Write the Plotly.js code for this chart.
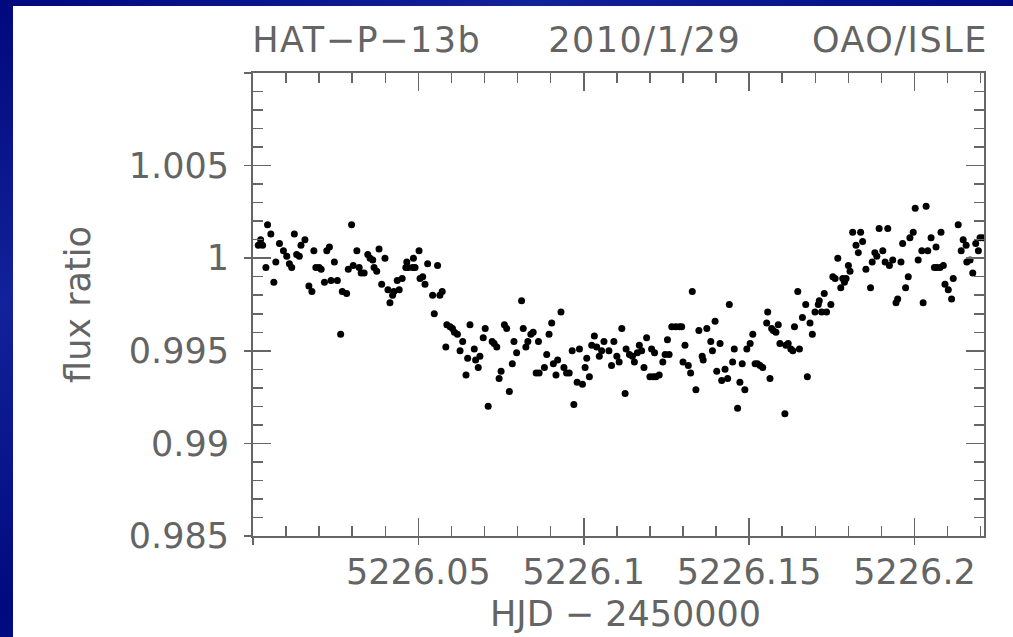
<!DOCTYPE html>
<html>
<head>
<meta charset="utf-8">
<script src="https://cdn.plot.ly/plotly-3.0.1.min.js"></script>
<style>
  html, body { margin: 0; padding: 0; width: 1013px; height: 637px; overflow: hidden;
    background: linear-gradient(150deg, #00087e 0%, #12229a 25%, #000a80 50%, #0d1a92 75%, #00067a 100%); }
  #plot { position: absolute; left: 13px; top: 6px; width: 1000px; height: 631px; background: #ffffff; }
  #plot .annotation-text.spaced { letter-spacing: 1.5px; }
</style>
</head>
<body>
<div id="plot"></div>
<script>
// Light curve of HAT-P-13b, 2010/1/29, OAO/ISLE
const hjd = [
5226.0016,5226.0023,5226.0029,5226.0039,5226.0044,5226.0054,5226.0063,5226.0069,5226.0080,5226.0092,
5226.0102,5226.0110,5226.0117,5226.0125,5226.0132,5226.0140,5226.0145,5226.0157,5226.0169,5226.0178,
5226.0184,5226.0190,5226.0200,5226.0206,5226.0216,5226.0223,5226.0231,5226.0236,5226.0246,5226.0255,
5226.0265,5226.0270,5226.0283,5226.0288,5226.0298,5226.0303,5226.0314,5226.0321,5226.0327,5226.0336,
5226.0347,5226.0354,5226.0362,5226.0366,5226.0374,5226.0381,5226.0389,5226.0399,5226.0408,5226.0414,
5226.0422,5226.0426,5226.0436,5226.0442,5226.0451,5226.0462,5226.0465,5226.0470,5226.0483,5226.0485,
5226.0490,5226.0502,5226.0505,5226.0513,5226.0520,5226.0528,5226.0543,5226.0548,5226.0558,5226.0565,
5226.0572,5226.0583,5226.0586,5226.0596,5226.0603,5226.0609,5226.0618,5226.0626,5226.0634,5226.0644,
5226.0649,5226.0656,5226.0669,5226.0673,5226.0681,5226.0686,5226.0696,5226.0702,5226.0711,5226.0723,
5226.0729,5226.0737,5226.0744,5226.0750,5226.0760,5226.0767,5226.0775,5226.0784,5226.0789,5226.0797,
5226.0812,5226.0817,5226.0825,5226.0831,5226.0840,5226.0847,5226.0856,5226.0863,5226.0865,5226.0881,
5226.0888,5226.0895,5226.0903,5226.0908,5226.0916,5226.0921,5226.0931,5226.0940,5226.0948,5226.0956,
5226.0965,5226.0970,5226.0980,5226.0987,5226.0996,5226.1004,5226.1009,5226.1017,5226.1024,5226.1032,
5226.1039,5226.1047,5226.1054,5226.1061,5226.1076,5226.1084,5226.1091,5226.1100,5226.1107,5226.1115,
5226.1125,5226.1128,5226.1138,5226.1147,5226.1153,5226.1162,5226.1168,5226.1175,5226.1182,5226.1190,
5226.1200,5226.1205,5226.1210,5226.1214,5226.1218,5226.1228,5226.1239,5226.1246,5226.1253,5226.1258,
5226.1266,5226.1278,5226.1289,5226.1296,5226.1300,5226.1306,5226.1316,5226.1323,5226.1328,5226.1339,
5226.1348,5226.1358,5226.1361,5226.1372,5226.1384,5226.1389,5226.1397,5226.1402,5226.1412,5226.1417,
5226.1427,5226.1435,5226.1440,5226.1450,5226.1455,5226.1465,5226.1472,5226.1479,5226.1487,5226.1493,
5226.1503,5226.1511,5226.1518,5226.1525,5226.1533,5226.1541,5226.1553,5226.1556,5226.1563,5226.1568,
5226.1573,5226.1581,5226.1588,5226.1593,5226.1608,5226.1611,5226.1618,5226.1626,5226.1632,5226.1637,
5226.1647,5226.1652,5226.1661,5226.1671,5226.1676,5226.1684,5226.1691,5226.1699,5226.1709,5226.1712,
5226.1719,5226.1727,5226.1734,5226.1747,5226.1753,5226.1760,5226.1768,5226.1777,5226.1783,5226.1788,
5226.1793,5226.1800,5226.1805,5226.1813,5226.1823,5226.1830,5226.1837,5226.1843,5226.1853,5226.1867,
5226.1872,5226.1880,5226.1886,5226.1893,5226.1904,5226.1911,5226.1919,5226.1924,5226.1934,5226.1944,
5226.1949,5226.1959,5226.1964,5226.1973,5226.1981,5226.1986,5226.1996,5226.2002,5226.2011,5226.2022,
5226.2026,5226.2035,5226.2040,5226.2050,5226.2060,5226.2065,5226.2067,5226.2077,5226.2080,5226.2087,
5226.2092,5226.2102,5226.2112,5226.2117,5226.2132,5226.2141,5226.2147,5226.2156,5226.2158,5226.2168,
5226.2176,5226.2185,5226.2193,5226.2198,5226.2206
];
const fluxRatio = [
1.0007,1.0010,1.0007,0.9995,1.0018,1.0013,0.9987,0.9998,1.0008,1.0004,
1.0001,0.9997,0.9995,1.0013,1.0002,1.0001,1.0007,1.0010,0.9985,0.9982,
1.0004,0.9995,0.9995,0.9994,0.9987,1.0004,1.0006,0.9988,0.9998,0.9988,
0.9959,0.9982,0.9981,0.9994,1.0018,0.9996,1.0004,0.9995,0.9992,0.9992,
1.0002,1.0000,0.9999,0.9995,0.9993,1.0005,0.9986,1.0000,0.9983,0.9976,
0.9980,0.9982,0.9988,0.9983,0.9989,0.9995,0.9998,0.9995,0.9995,1.0000,
0.9995,1.0004,0.9989,0.9990,0.9986,0.9997,0.9980,0.9970,0.9996,0.9980,
0.9982,0.9952,0.9964,0.9963,0.9962,0.9960,0.9959,0.9950,0.9955,0.9937,
0.9946,0.9964,0.9951,0.9945,0.9941,0.9947,0.9957,0.9962,0.9920,0.9955,
0.9954,0.9952,0.9935,0.9939,0.9964,0.9962,0.9928,0.9943,0.9955,0.9949,
0.9977,0.9962,0.9952,0.9955,0.9959,0.9960,0.9938,0.9955,0.9938,0.9941,
0.9948,0.9959,0.9965,0.9943,0.9937,0.9945,0.9971,0.9941,0.9938,0.9938,
0.9950,0.9921,0.9933,0.9951,0.9932,0.9941,0.9946,0.9936,0.9953,0.9958,
0.9952,0.9947,0.9950,0.9955,0.9950,0.9942,0.9955,0.9947,0.9944,0.9962,
0.9927,0.9951,0.9948,0.9947,0.9944,0.9949,0.9953,0.9950,0.9941,0.9957,
0.9936,0.9951,0.9936,0.9949,0.9936,0.9937,0.9944,0.9948,0.9956,0.9948,
0.9963,0.9963,0.9963,0.9963,0.9944,0.9953,0.9942,0.9938,0.9982,0.9929,
0.9961,0.9947,0.9945,0.9962,0.9955,0.9950,0.9966,0.9939,0.9954,0.9934,
0.9940,0.9935,0.9975,0.9944,0.9951,0.9919,0.9933,0.9943,0.9929,0.9951,
0.9954,0.9959,0.9943,0.9943,0.9942,0.9941,0.9965,0.9971,0.9935,0.9962,
0.9961,0.9960,0.9964,0.9954,0.9916,0.9953,0.9954,0.9951,0.9950,0.9963,
0.9982,0.9951,0.9968,0.9975,0.9936,0.9965,0.9959,0.9971,0.9975,0.9977,
0.9971,0.9981,0.9971,0.9975,0.9990,0.9989,1.0000,0.9984,0.9989,0.9987,
0.9989,0.9996,0.9993,1.0014,1.0007,1.0003,1.0014,1.0009,0.9994,0.9984,
0.9998,1.0003,1.0001,1.0016,1.0004,0.9998,1.0016,0.9996,0.9999,0.9976,
0.9978,0.9998,1.0008,0.9984,0.9990,1.0011,1.0014,1.0027,0.9999,1.0004,
0.9976,1.0028,1.0004,1.0011,0.9995,1.0006,0.9995,0.9995,1.0014,0.9996,
0.9986,0.9983,0.9978,0.9989,1.0018,1.0004,1.0010,1.0007,0.9998,0.9999,
0.9992,1.0008,1.0004,1.0011,1.0011
];

const xTickVals = [5226.0, 5226.05, 5226.1, 5226.15, 5226.2];
const xTickText = ['', '5226.05', '5226.1', '5226.15', '5226.2'];
const yTickVals = [0.985, 0.99, 0.995, 1, 1.005, 1.01];
const yTickText = ['0.985', '0.99', '0.995', '1', '1.005', ''];
const xRange = [5226.0, 5226.221];
const yRange = [0.985, 1.01];
const titleParts = ['HAT−P−13b', '2010/1/29', 'OAO/ISLE'];
const xTitle = 'HJD − 2450000';
const yTitle = 'flux ratio';

const FONT = 'DejaVu Sans, Verdana, sans-serif';
const TXT = '#646464';
const AX = '#666666';
const tFont = { family: FONT, size: 35, color: TXT };

const data = [
  { x: hjd, y: fluxRatio, type: 'scatter', mode: 'markers',
    marker: { color: '#000000', size: 7, line: { width: 0 } }, hoverinfo: 'skip' },
  { x: [], y: [], type: 'scatter', mode: 'markers', xaxis: 'x2', yaxis: 'y2', hoverinfo: 'skip' }
];

const baseAxis = {
  showgrid: false, zeroline: false, showline: true, linecolor: AX, linewidth: 2,
  ticks: 'inside', ticklen: 18, tickwidth: 1.5, tickcolor: AX, mirror: 'ticks',
  tickmode: 'array',
  tickfont: tFont
};

const layout = {
  width: 1000, height: 631,
  margin: { l: 240, r: 29, t: 67, b: 101 },
  paper_bgcolor: '#ffffff', plot_bgcolor: '#ffffff',
  showlegend: false, hovermode: false,
  xaxis: Object.assign({}, baseAxis, {
    range: xRange, tickvals: xTickVals, ticktext: xTickText,
    ticklabelstandoff: 4,
    minor: { tickmode: 'linear', tick0: 5226.0, dtick: 0.01, ticks: 'inside', ticklen: 10, tickwidth: 1.5, tickcolor: AX }
  }),
  yaxis: Object.assign({}, baseAxis, {
    range: yRange, tickvals: yTickVals, ticktext: yTickText,
    ticklabelstandoff: 15,
    minor: { tickmode: 'linear', tick0: 0.985, dtick: 0.001, ticks: 'inside', ticklen: 10, tickwidth: 1.5, tickcolor: AX },
    title: { text: yTitle, font: tFont, standoff: 28 }
  }),
  xaxis2: {
    overlaying: 'x', anchor: 'y2', side: 'bottom', range: xRange,
    tickmode: 'array', tickvals: xTickVals, showticklabels: false,
    ticks: 'outside', ticklen: 8, tickwidth: 1.5, tickcolor: AX,
    showgrid: false, zeroline: false, showline: false
  },
  yaxis2: {
    overlaying: 'y', anchor: 'x2', side: 'left', range: yRange,
    tickmode: 'array', tickvals: yTickVals, showticklabels: false,
    ticks: 'outside', ticklen: 8, tickwidth: 1.5, tickcolor: AX,
    showgrid: false, zeroline: false, showline: false
  },
  annotations: [
    { text: titleParts[0], xref: 'paper', yref: 'paper', x: 0, y: 1, xanchor: 'left', yanchor: 'middle', yshift: 33, xshift: 4,
      showarrow: false, font: tFont },
    { text: titleParts[1], xref: 'paper', yref: 'paper', x: 0.535, y: 1, xanchor: 'center', yanchor: 'middle', yshift: 33,
      showarrow: false, font: tFont },
    { text: titleParts[2], xref: 'paper', yref: 'paper', x: 1, y: 1, xanchor: 'right', yanchor: 'middle', yshift: 33,
      showarrow: false, font: tFont },
    { text: xTitle, xref: 'paper', yref: 'paper', x: 0.509, y: 0, xanchor: 'center', yanchor: 'middle', yshift: -78,
      showarrow: false, font: tFont }
  ]
};

Plotly.newPlot('plot', data, layout, { staticPlot: true, displayModeBar: false }).then(function () {
  // slight letter spacing on the three header pieces, like the original lettering
  const texts = document.querySelectorAll('#plot .annotation-text');
  for (let i = 0; i < 3 && i < texts.length; i++) texts[i].classList.add('spaced');
});
</script>
</body>
</html>
